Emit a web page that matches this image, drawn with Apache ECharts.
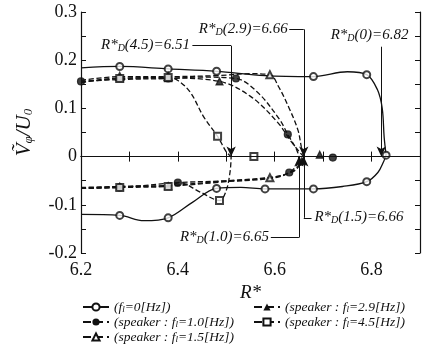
<!DOCTYPE html>
<html><head><meta charset="utf-8">
<script src="https://cdn.jsdelivr.net/npm/echarts@6/dist/echarts.min.js"></script>
<style>html,body{margin:0;padding:0;background:#fff}#c{width:429px;height:352px}</style>
</head><body><div id="c"></div>
<script>
// ---- tick labels ----
const xTickLabels = ['6.2','6.4','6.6','6.8'];
const yTickLabels = ['-0.2','-0.1','0','0.1','0.2','0.3'];

// f_l = 0 Hz (solid, open circles)
const f0Upper = [[6.2,0.184],[6.28,0.187],[6.38,0.182],[6.48,0.177],[6.58,0.168],[6.68,0.166],[6.75,0.176],[6.79,0.170],[6.812,0.139],[6.822,0.100],[6.826,0.040],[6.83,0.003]];
const f0UpperMarks = [[6.28,0.187],[6.38,0.182],[6.48,0.177],[6.68,0.166],[6.79,0.170],[6.83,0.003]];
const f0Lower = [[6.2,-0.120],[6.28,-0.122],[6.33,-0.133],[6.38,-0.127],[6.43,-0.095],[6.48,-0.066],[6.53,-0.064],[6.58,-0.067],[6.68,-0.067],[6.74,-0.062],[6.79,-0.052],[6.813,-0.033],[6.825,-0.010],[6.83,0.003]];
const f0LowerMarks = [[6.28,-0.122],[6.38,-0.127],[6.48,-0.066],[6.58,-0.067],[6.68,-0.067],[6.79,-0.052]];

// speaker f_l = 1.0 Hz (dashed, filled circles)
const f10Upper = [[6.2,0.156],[6.28,0.160],[6.38,0.162],[6.45,0.165],[6.52,0.162],[6.565,0.133],[6.61,0.077],[6.627,0.046],[6.645,0.015],[6.65,0]];
const f10UpperMarks = [[6.2,0.156],[6.38,0.162],[6.52,0.162],[6.627,0.046]];
const f10Lower = [[6.2,-0.066],[6.28,-0.064],[6.40,-0.054],[6.50,-0.050],[6.60,-0.042],[6.63,-0.033],[6.645,-0.018],[6.65,0]];
const f10LowerMarks = [[6.28,-0.064],[6.40,-0.054],[6.63,-0.033]];
const f10After = [[6.72,-0.002]];

// speaker f_l = 1.5 Hz (dashed, open triangles)
const f15Upper = [[6.2,0.158],[6.28,0.166],[6.38,0.166],[6.48,0.168],[6.55,0.172],[6.59,0.170],[6.608,0.145],[6.63,0.100],[6.648,0.055],[6.655,0.020],[6.66,0]];
const f15UpperMarks = [[6.28,0.166],[6.38,0.166],[6.59,0.170]];
const f15Lower = [[6.2,-0.064],[6.28,-0.062],[6.38,-0.060],[6.48,-0.052],[6.59,-0.044],[6.64,-0.030],[6.655,-0.012],[6.66,0]];
const f15LowerMarks = [[6.59,-0.044]];

// speaker f_l = 2.9 Hz (dashed, filled triangles)
const f29Upper = [[6.2,0.154],[6.28,0.163],[6.38,0.163],[6.486,0.156],[6.55,0.125],[6.606,0.071],[6.635,0.030],[6.655,0.005],[6.66,0]];
const f29UpperMarks = [[6.28,0.163],[6.38,0.163],[6.486,0.156]];
const f29Lower = [[6.2,-0.066],[6.28,-0.062],[6.38,-0.061],[6.50,-0.052],[6.60,-0.044],[6.64,-0.028],[6.655,-0.010],[6.66,0]];
const f29LowerMarks = [[6.28,-0.062],[6.38,-0.061],[6.655,-0.010]];
const f29After = [[6.693,0.004]];

// speaker f_l = 4.5 Hz (dashed, open squares)
const f45Upper = [[6.2,0.154],[6.28,0.162],[6.38,0.164],[6.40,0.158],[6.426,0.133],[6.453,0.083],[6.482,0.042],[6.50,0.010],[6.51,0]];
const f45UpperMarks = [[6.28,0.162],[6.38,0.164],[6.482,0.042]];
const f45Lower = [[6.2,-0.066],[6.28,-0.064],[6.38,-0.062],[6.403,-0.054],[6.445,-0.073],[6.486,-0.091],[6.50,-0.070],[6.508,-0.030],[6.51,0]];
const f45LowerMarks = [[6.28,-0.064],[6.38,-0.062],[6.486,-0.091]];
const f45After = [[6.557,0]];

// critical radii R*_D
const rdValues = {f45:6.51, f29:6.66, f0:6.82, f10:6.65, f15:6.66};

const INK = '#111';
const SERIF = '"Liberation Serif","DejaVu Serif",serif';

const styles = {
  f0:  {type:'solid',  symbol:'emptyCircle',   label:'(f{s|l}=0[Hz])'},
  f10: {type:'dashed', symbol:'circle',        label:'(speaker : f{s|l}=1.0[Hz])'},
  f15: {type:'dashed', symbol:'emptyTriangle', label:'(speaker : f{s|l}=1.5[Hz])'},
  f29: {type:'dashed', symbol:'triangle',      label:'(speaker : f{s|l}=2.9[Hz])'},
  f45: {type:'dashed', symbol:'emptyRect',     label:'(speaker : f{s|l}=4.5[Hz])'}
};

function lineS(name, data){
  const st = styles[name];
  return {name, type:'line', data, smooth:0.35, showSymbol:false, symbol:st.symbol, symbolSize:7,
    lineStyle:{color:INK, width:1.3, type:st.type}, itemStyle:{color:INK, borderColor:INK}, z:3, animation:false};
}
function markS(name, data){
  const st = styles[name];
  return {name, type:'scatter', data, symbol:st.symbol, symbolSize:7,
    itemStyle:{color:INK, borderColor:INK, borderWidth:1.2}, z:4, animation:false};
}

const series = [
  lineS('f0', f0Upper), lineS('f0', f0Lower),
  lineS('f10', f10Upper), lineS('f10', f10Lower),
  lineS('f15', f15Upper), lineS('f15', f15Lower),
  lineS('f29', f29Upper), lineS('f29', f29Lower),
  lineS('f45', f45Upper), lineS('f45', f45Lower),
  markS('f0', f0UpperMarks.concat(f0LowerMarks)),
  markS('f10', f10UpperMarks.concat(f10LowerMarks, f10After)),
  markS('f15', f15UpperMarks.concat(f15LowerMarks)),
  markS('f29', f29UpperMarks.concat(f29LowerMarks, f29After)),
  markS('f45', f45UpperMarks.concat(f45LowerMarks, f45After))
];

function seg(a, b, arrow){
  return [{coord:a, symbol:'none'}, {coord:b, symbol: arrow ? 'arrow' : 'none', symbolSize:[7,10]}];
}
series.push({
  type:'line', data:[], silent:true, animation:false,
  markLine:{silent:true, animation:false, symbol:['none','none'], label:{show:false},
    lineStyle:{color:INK, width:1, type:'solid'},
    data:[
      [{coord:[6.2,0], symbol:'none'},{coord:[6.9,0], symbol:'none'}],
      seg([6.43,0.230],[rdValues.f45,0.230],false), seg([rdValues.f45,0.230],[rdValues.f45,0],true),
      seg([6.63,0.264],[rdValues.f29,0.264],false), seg([rdValues.f29,0.264],[rdValues.f29,0],true),
      seg([rdValues.f0,0.228],[rdValues.f0,0],true),
      seg([6.592,-0.168],[rdValues.f10,-0.168],false), seg([rdValues.f10,-0.168],[rdValues.f10,0],true),
      seg([6.676,-0.127],[rdValues.f15,-0.127],false), seg([rdValues.f15,-0.127],[rdValues.f15,0],true)
    ]}
});

const rich = {
  i:{fontFamily:SERIF, fontStyle:'italic', fontSize:15, color:INK},
  s:{fontFamily:SERIF, fontStyle:'italic', fontSize:10, color:INK, padding:[8,0,0,0]}
};
const legRich = {
  s:{fontFamily:SERIF, fontStyle:'italic', fontSize:9, lineHeight:8, verticalAlign:'bottom', color:INK}
};

function legend(data, left){
  return {data, orient:'vertical', left, top:300, height:60, itemWidth:26, itemHeight:9, itemGap:1,
    selectedMode:false, padding:0,
    formatter: n => styles[n].label,
    textStyle:{fontFamily:SERIF, fontStyle:'italic', fontSize:13.5, lineHeight:14, color:INK, rich:legRich}};
}

const chart = echarts.init(document.getElementById('c'), null, {renderer:'canvas'});
const axisCommon = {axisLine:{lineStyle:{color:INK, width:1.2}}, axisTick:{inside:true, length:5, lineStyle:{color:INK}}, splitLine:{show:false}};
chart.setOption({
  backgroundColor:'#fff',
  grid:{left:81, right:9, top:12, bottom:99},
  legend:[legend(['f0','f10','f15'], 82), legend(['f29','f45'], 253)],
  xAxis:[
    Object.assign({type:'value', min:6.2, max:6.9, interval:0.1, position:'bottom',
      name:'R*', nameLocation:'middle', nameGap:21,
      nameTextStyle:{fontFamily:SERIF, fontStyle:'italic', fontSize:19, color:INK},
      axisLabel:{fontFamily:SERIF, fontSize:18, color:INK, margin:8,
        formatter:v=>{const s=(Math.round(v*10)/10).toFixed(1); return xTickLabels.includes(s)?s:'';}}}, axisCommon),
    Object.assign({type:'value', min:6.2, max:6.9, interval:0.1, position:'top', axisLabel:{show:false}}, axisCommon)
  ],
  yAxis:[
    Object.assign({type:'value', min:-0.2, max:0.3, interval:0.05, position:'left',
      name:'{v|Ṽ}{t|φ}{v|/U}{t|0}', nameLocation:'middle', nameGap:46, nameRotate:90,
      nameTextStyle:{rich:{
        v:{fontFamily:SERIF, fontStyle:'italic', fontSize:21, color:INK},
        t:{fontFamily:SERIF, fontStyle:'italic', fontSize:13, color:INK, padding:[9,0,0,0]}}},
      axisLabel:{fontFamily:SERIF, fontSize:18, color:INK, margin:4,
        formatter:v=>{const s=String(Math.round(v*10)/10); return (Math.abs(v*10-Math.round(v*10))<1e-6 && yTickLabels.includes(s))?s:'';}}}, axisCommon),
    Object.assign({type:'value', min:-0.2, max:0.3, interval:0.05, position:'right', axisLabel:{show:false}}, axisCommon)
  ],
  series
});

const annTexts = [
  {text:'{i|R*}{s|D}{i|(4.5)=6.51}', at:[6.425,0.232], align:'right'},
  {text:'{i|R*}{s|D}{i|(2.9)=6.66}', at:[6.627,0.265], align:'right'},
  {text:'{i|R*}{s|D}{i|(0)=6.82}',   at:[6.876,0.253], align:'right'},
  {text:'{i|R*}{s|D}{i|(1.0)=6.65}', at:[6.588,-0.166], align:'right'},
  {text:'{i|R*}{s|D}{i|(1.5)=6.66}', at:[6.682,-0.125], align:'left'}
];
chart.setOption({graphic: annTexts.map(a=>{
  const p = chart.convertToPixel({gridIndex:0}, a.at);
  return {type:'text', x:p[0], y:p[1], z:10, style:{text:a.text, rich, align:a.align, verticalAlign:'middle', fill:INK, backgroundColor:'#fff'}};
})});
</script></body></html>
